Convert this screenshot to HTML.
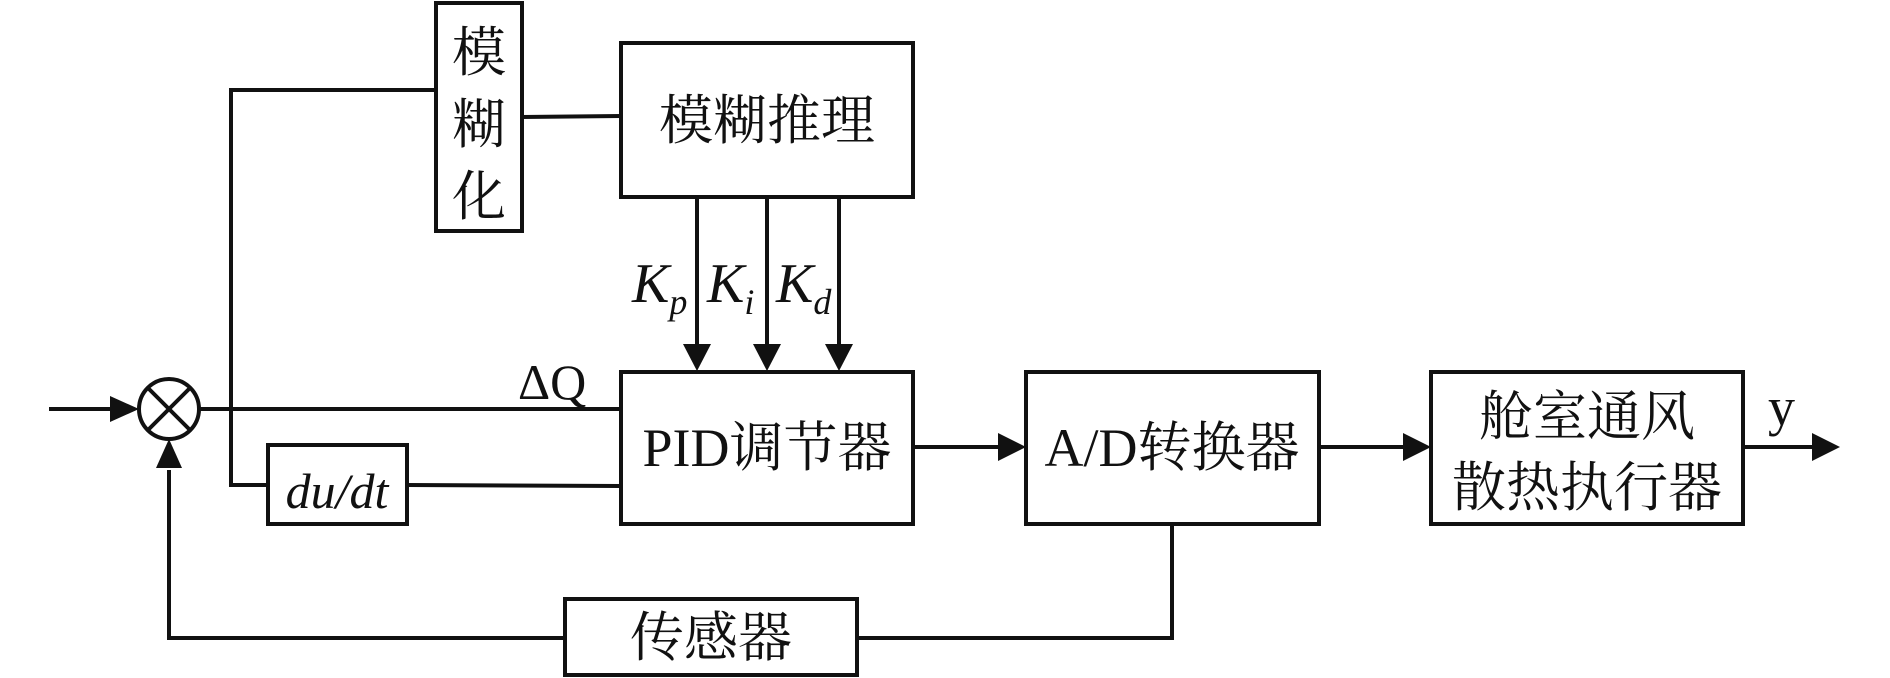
<!DOCTYPE html>
<html><head><meta charset="utf-8"><style>
html,body{margin:0;padding:0;background:#fff;}
svg{display:block;}
.cn{font-family:"Liberation Serif","Noto Serif CJK SC",serif;font-size:54px;fill:#111;}
.it{font-family:"Liberation Serif",serif;font-style:italic;fill:#111;}
.rm{font-family:"Liberation Serif",serif;fill:#111;}
</style></head><body>
<svg width="1890" height="678" viewBox="0 0 1890 678" xmlns="http://www.w3.org/2000/svg">
<g fill="none" stroke="#111" stroke-width="4">
<rect x="436" y="3" width="86" height="228"/>
<rect x="621" y="43" width="292" height="154"/>
<rect x="621" y="372" width="292" height="152"/>
<rect x="268" y="445" width="139" height="79"/>
<rect x="565" y="599" width="292" height="76"/>
<rect x="1026" y="372" width="293" height="152"/>
<rect x="1431" y="372" width="312" height="152"/>
<circle cx="169" cy="409" r="30"/>
<line x1="148" y1="388" x2="190" y2="430"/>
<line x1="190" y1="388" x2="148" y2="430"/>
<polyline points="436,90 231,90 231,485 268,485"/>
<line x1="522" y1="117" x2="621" y2="116"/>
<line x1="199" y1="409" x2="621" y2="409"/>
<line x1="407" y1="485" x2="621" y2="486"/>
<line x1="49" y1="409" x2="120" y2="409"/>
<polyline points="565,638 169,638 169,470"/>
<polyline points="857,638 1172,638 1172,524"/>
<line x1="697" y1="197" x2="697" y2="350"/>
<line x1="767" y1="197" x2="767" y2="350"/>
<line x1="839" y1="197" x2="839" y2="350"/>
<line x1="913" y1="447" x2="1000" y2="447"/>
<line x1="1319" y1="447" x2="1405" y2="447"/>
<line x1="1743" y1="447" x2="1815" y2="447"/>
</g>
<g fill="#111">
<polygon points="139,409 110,396 110,422"/>
<polygon points="169,439 156,468 182,468"/>
<polygon points="697,371 683,344 711,344"/>
<polygon points="767,371 753,344 781,344"/>
<polygon points="839,371 825,344 853,344"/>
<polygon points="1026,447 998,433 998,461"/>
<polygon points="1431,447 1403,433 1403,461"/>
<polygon points="1840,447 1812,433 1812,461"/>
</g>
<text class="cn" x="479" y="71" text-anchor="middle">模</text>
<text class="cn" x="479" y="143" text-anchor="middle">糊</text>
<text class="cn" x="479" y="215" text-anchor="middle">化</text>
<text class="cn" x="767" y="139" text-anchor="middle">模糊推理</text>
<text class="cn" x="767" y="466" text-anchor="middle"><tspan class="rm">PID</tspan>调节器</text>
<text class="cn" x="1172" y="466" text-anchor="middle"><tspan class="rm">A/D</tspan>转换器</text>
<text class="cn" x="1587" y="435" text-anchor="middle">舱室通风</text>
<text class="cn" x="1587" y="506" text-anchor="middle">散热执行器</text>
<text class="cn" x="711" y="656" text-anchor="middle">传感器</text>
<text class="it" x="337" y="508" font-size="50" text-anchor="middle">du/dt</text>
<text class="rm" x="518" y="399" font-size="50">ΔQ</text>
<text class="rm" x="1768" y="425" font-size="54">y</text>
<text class="it" x="632" y="302" font-size="56">K<tspan font-size="36" dy="12">p</tspan></text>
<text class="it" x="707" y="302" font-size="56">K<tspan font-size="36" dy="12">i</tspan></text>
<text class="it" x="776" y="302" font-size="56">K<tspan font-size="36" dy="12">d</tspan></text>
</svg>
</body></html>
